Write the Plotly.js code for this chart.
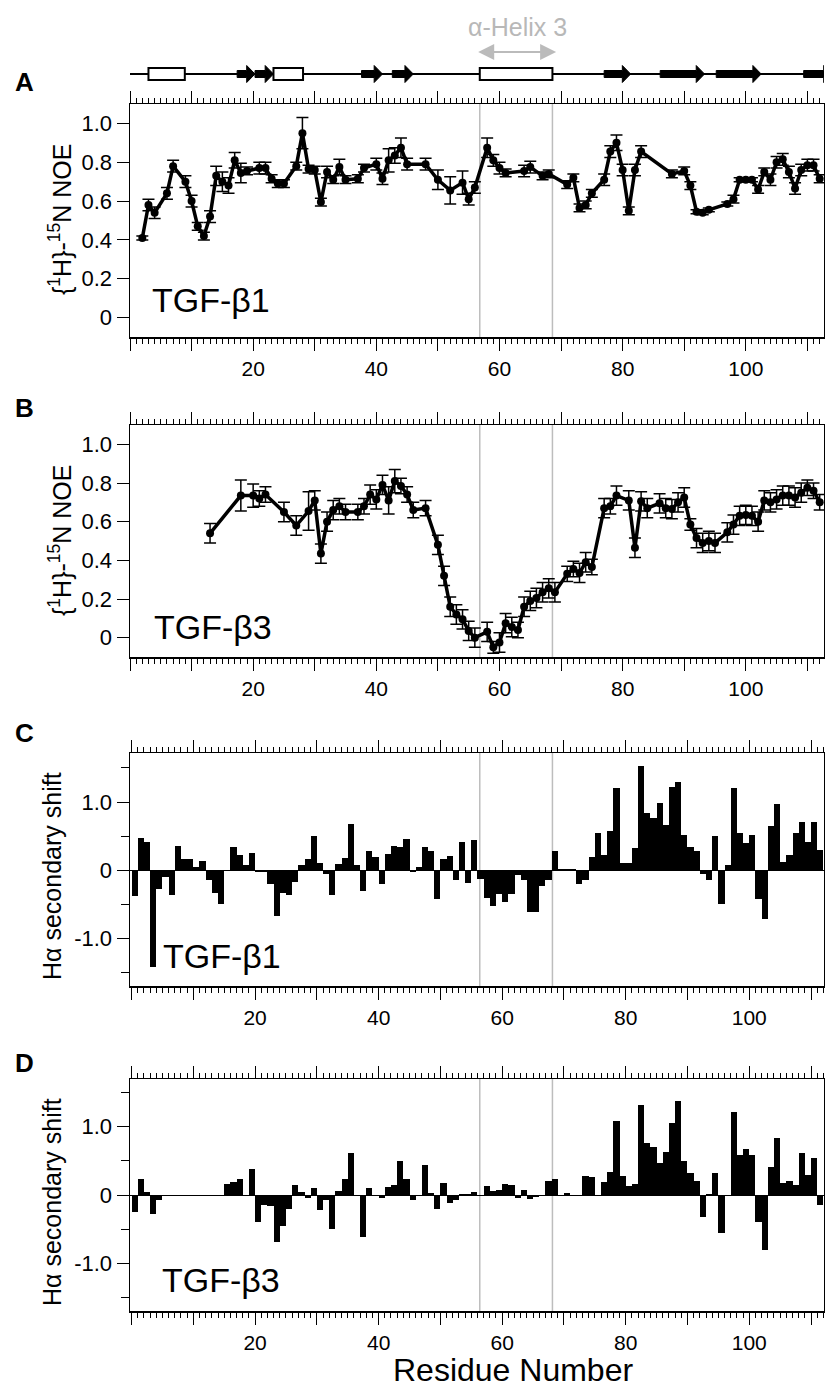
<!DOCTYPE html>
<html>
<head>
<meta charset="utf-8">
<script src="https://cdn.plot.ly/plotly-3.0.1.min.js"></script>
<style>html,body{margin:0;padding:0;background:#fff;}#chart{width:825px;height:1391px;}</style>
</head>
<body>
<div id="chart"></div>
<script>
// ---------- DATA ----------
// Panel A: TGF-beta1 {1H}-15N NOE
const resA = [2,3,4,6,7,9,10,11,12,13,14,15,16,17,18,19,21,22,23,24,25,27,28,29,30,31,32,33,34,35,37,38,40,41,42,43,44,45,48,50,52,54,55,56,58,59,60,61,64,65,67,68,71,72,73,74,75,77,78,79,80,81,82,83,88,90,91,92,93,94,97,98,99,100,101,102,103,104,105,106,107,108,109,110,111,112];
const noeA = [0.41,0.58,0.54,0.64,0.78,0.70,0.60,0.47,0.42,0.52,0.73,0.70,0.68,0.81,0.745,0.755,0.77,0.77,0.715,0.69,0.69,0.78,0.95,0.765,0.76,0.595,0.75,0.71,0.775,0.71,0.715,0.77,0.79,0.715,0.81,0.835,0.875,0.79,0.79,0.71,0.655,0.695,0.61,0.67,0.875,0.81,0.77,0.745,0.755,0.775,0.73,0.74,0.685,0.72,0.565,0.58,0.64,0.71,0.855,0.90,0.76,0.55,0.76,0.855,0.74,0.755,0.68,0.545,0.54,0.555,0.585,0.61,0.71,0.71,0.71,0.66,0.75,0.71,0.80,0.815,0.75,0.665,0.76,0.785,0.785,0.715];
const errA = [0.01,0.03,0.03,0.03,0.03,0.03,0.03,0.02,0.02,0.03,0.05,0.05,0.04,0.04,0.05,0.02,0.03,0.03,0.02,0.02,0.02,0.02,0.08,0.02,0.02,0.02,0.03,0.02,0.04,0.02,0.02,0.02,0.03,0.03,0.06,0.04,0.05,0.03,0.03,0.05,0.07,0.06,0.03,0.03,0.05,0.03,0.03,0.02,0.03,0.03,0.02,0.02,0.02,0.02,0.02,0.02,0.02,0.03,0.03,0.04,0.03,0.02,0.03,0.03,0.02,0.02,0.02,0.01,0.01,0.01,0.01,0.02,0.01,0.01,0.01,0.02,0.02,0.03,0.03,0.03,0.03,0.03,0.03,0.03,0.03,0.02];

// Panel B: TGF-beta3 {1H}-15N NOE
const resB = [13,18,20,21,22,25,27,29,30,31,32,33,34,35,37,38,39,40,41,42,43,44,45,46,48,50,51,52,53,54,55,56,58,59,60,61,62,63,64,65,66,67,68,69,71,72,73,74,75,77,78,79,81,82,83,84,86,87,88,89,90,91,92,93,94,95,97,98,99,100,101,102,103,104,105,106,107,108,109,110,111,112];
const noeB = [0.54,0.735,0.735,0.72,0.74,0.65,0.58,0.655,0.71,0.435,0.60,0.66,0.68,0.65,0.65,0.68,0.74,0.715,0.79,0.71,0.81,0.785,0.74,0.66,0.67,0.48,0.32,0.16,0.12,0.095,0.035,0.00,0.03,-0.05,-0.025,0.075,0.055,0.04,0.16,0.19,0.205,0.235,0.255,0.235,0.33,0.355,0.335,0.39,0.365,0.67,0.68,0.735,0.71,0.465,0.705,0.67,0.695,0.67,0.665,0.70,0.725,0.585,0.515,0.49,0.50,0.49,0.545,0.585,0.63,0.635,0.63,0.60,0.71,0.70,0.715,0.735,0.735,0.725,0.75,0.775,0.76,0.70];
const errB = [0.05,0.08,0.06,0.04,0.04,0.05,0.05,0.10,0.05,0.05,0.05,0.05,0.04,0.04,0.04,0.04,0.05,0.05,0.05,0.07,0.06,0.04,0.04,0.04,0.04,0.05,0.05,0.05,0.05,0.05,0.05,0.05,0.05,0.03,0.05,0.05,0.05,0.04,0.05,0.05,0.05,0.05,0.05,0.05,0.04,0.04,0.05,0.05,0.04,0.05,0.04,0.05,0.05,0.05,0.05,0.05,0.05,0.05,0.05,0.05,0.05,0.03,0.05,0.05,0.05,0.05,0.05,0.05,0.05,0.05,0.05,0.05,0.05,0.05,0.05,0.05,0.05,0.05,0.05,0.04,0.04,0.04];

// Panel C: TGF-beta1 H-alpha secondary shift
const resC = [1,2,3,4,5,6,7,8,9,10,11,12,13,14,15,16,17,18,19,20,21,22,23,24,25,26,27,28,29,30,31,32,33,34,35,36,37,38,39,40,41,42,43,44,45,46,47,48,49,50,51,52,53,54,55,56,57,58,59,60,61,62,63,64,65,66,67,68,69,70,71,72,73,74,75,76,77,78,79,80,81,82,83,84,85,86,87,88,89,90,91,92,93,94,95,96,97,98,99,100,101,102,103,104,105,106,107,108,109,110,111,112];
const shiftC = [-0.38,0.47,0.41,-1.42,-0.28,-0.10,-0.37,0.36,0.16,0.16,0.04,0.13,-0.15,-0.33,-0.50,0.01,0.34,0.23,0.07,0.25,-0.02,-0.02,-0.20,-0.67,-0.33,-0.36,-0.18,0.08,0.17,0.50,0.10,-0.06,-0.36,0.09,0.18,0.68,0.08,-0.30,0.28,0.20,-0.20,0.24,0.36,0.34,0.46,-0.02,0.04,0.34,0.28,-0.43,0.16,0.21,-0.15,0.41,-0.19,0.44,-0.13,-0.41,-0.52,-0.35,-0.47,-0.35,-0.07,-0.15,-0.62,-0.61,-0.23,-0.15,0.28,0.02,0.015,0.02,-0.21,-0.15,0.19,0.55,0.22,0.58,1.20,0.11,0.11,0.33,1.53,0.84,0.76,0.99,0.66,1.22,1.29,0.52,0.34,0.28,-0.06,-0.14,0.50,-0.49,0.07,1.20,0.55,0.40,0.52,-0.43,-0.71,0.65,0.97,0.12,0.23,0.54,0.71,0.42,0.71,0.30];

// Panel D: TGF-beta3 H-alpha secondary shift
const resD = [1,2,3,4,5,16,17,18,20,21,22,23,24,25,26,27,28,29,30,31,32,33,34,35,36,38,39,40,41,42,43,44,45,46,47,48,49,50,51,52,53,54,55,56,57,58,59,60,61,62,63,64,65,66,67,68,69,70,71,74,75,77,78,79,80,81,82,83,84,85,86,87,88,89,90,91,92,93,94,95,96,97,98,99,100,101,102,103,104,105,106,107,108,109,110,111,112];
const shiftD = [-0.25,0.23,0.05,-0.28,-0.07,0.16,0.19,0.24,0.38,-0.39,-0.14,-0.16,-0.69,-0.45,-0.21,0.15,0.05,-0.04,0.10,-0.22,-0.08,-0.50,0.06,0.23,0.62,-0.61,0.10,-0.01,-0.05,0.12,0.15,0.50,0.23,-0.07,-0.015,0.44,0.03,-0.20,0.17,-0.12,-0.07,0.02,0.02,0.05,-0.02,0.13,0.06,0.08,0.16,0.15,-0.05,0.07,-0.06,-0.025,-0.015,0.20,0.24,-0.02,0.03,0.28,0.27,0.19,0.33,1.09,0.28,0.13,0.16,1.32,0.76,0.70,0.47,0.63,1.06,1.38,0.50,0.32,0.20,-0.32,0.02,0.32,-0.56,-0.02,1.22,0.58,0.67,0.58,-0.39,-0.80,0.41,0.83,0.17,0.20,0.14,0.61,0.30,0.54,-0.15];

// Secondary structure (residue ranges)
const helices = [[3.0, 8.9], [23.3, 28.1], [56.8, 68.6]];
const strands = [[17.4, 20.3], [20.3, 23.3], [37.6, 41.0], [42.6, 46.0], [77.0, 81.3], [86.1, 93.3], [95.2, 102.5], [109.4, 114.0]];
const helix3Bounds = [56.8, 68.6];
const helix3Arrow = [56.3, 69.2];
const helix3Label = 'α-Helix 3';

// Axis ticks
const xTickVals = [0,10,20,30,40,50,60,70,80,90,100,110];
const xTickText = ['','','20','','40','','60','','80','','100',''];
const yTickValsNOE = [0,0.2,0.4,0.6,0.8,1.0];
const yTickTextNOE = ['0','0.2','0.4','0.6','0.8','1.0'];
const yTickValsShift = [-1,0,1];
const yTickTextShift = ['-1.0','0','1.0'];
const yMinorShift = [-1.5,-0.5,0.5,1.5];

const panelLetters = ['A','B','C','D'];
const panelLabels = ['TGF-β1','TGF-β3','TGF-β1','TGF-β3'];
const noeTitle = '{<sup>1</sup>H}-<sup>15</sup>N NOE';
const shiftTitle = 'Hα secondary shift';
const xTitle = 'Residue Number';

// ---------- LAYOUT HELPERS ----------
const W = 825, H = 1391;
const FONT = 'Liberation Sans, Arial, Helvetica, sans-serif';
const py = p => 1 - p / H;
const pxf = p => p / W;
const xDomain = [pxf(130), pxf(824)];
const panelPx = [[104, 337], [425, 657], [753, 986], [1079, 1311]];
const xRanges = [[0, 112.7], [0, 112.7], [-0.25, 112.1], [-0.25, 112.1]];
const yRanges = [[-0.1, 1.1], [-0.1, 1.1], [-1.7, 1.72], [-1.7, 1.7]];

function xAxis(i) {
  return {
    domain: xDomain, range: xRanges[i], anchor: i === 0 ? 'y' : 'y' + (i + 1),
    showline: true, linecolor: 'black', linewidth: 1.5, mirror: 'ticks',
    ticks: 'outside', ticklen: 12, tickwidth: 1, tickcolor: 'black',
    tickmode: 'array', tickvals: xTickVals, ticktext: xTickText,
    minor: {dtick: 1, tick0: 0, ticks: 'outside', ticklen: 5, tickwidth: 1, tickcolor: 'black', showgrid: false},
    showgrid: false, zeroline: false, fixedrange: true,
    tickfont: {family: FONT, size: 21, color: 'black'}
  };
}
function yAxis(i) {
  const shift = i >= 2;
  const a = {
    domain: [py(panelPx[i][1]), py(panelPx[i][0])], range: yRanges[i],
    anchor: i === 0 ? 'x' : 'x' + (i + 1),
    showline: true, linecolor: 'black', linewidth: 1.5, mirror: true,
    ticks: 'outside', ticklen: 12, tickwidth: 1, tickcolor: 'black',
    tickmode: 'array',
    tickvals: shift ? yTickValsShift : yTickValsNOE,
    ticktext: shift ? yTickTextShift : yTickTextNOE,
    showgrid: false, zeroline: shift, zerolinecolor: 'black', zerolinewidth: 1,
    fixedrange: true,
    tickfont: {family: FONT, size: 22, color: 'black'}
  };
  if (shift) a.minor = {tickmode: 'array', tickvals: yMinorShift, ticks: 'outside', ticklen: 8, tickwidth: 1, tickcolor: 'black', showgrid: false};
  return a;
}

// ---------- TRACES ----------
function noeTrace(x, y, e, i) {
  return {
    type: 'scatter', mode: 'lines+markers', x: x, y: y,
    xaxis: i === 0 ? 'x' : 'x' + (i + 1), yaxis: i === 0 ? 'y' : 'y' + (i + 1),
    line: {color: 'black', width: 3.5},
    marker: {color: 'black', size: 8},
    error_y: {type: 'data', array: e, visible: true, color: 'black', thickness: 1.5, width: 6},
    hoverinfo: 'skip', showlegend: false
  };
}
function barTrace(x, y, i) {
  return {
    type: 'bar', x: x, y: y, width: 1, offset: -1,
    xaxis: 'x' + (i + 1), yaxis: 'y' + (i + 1),
    marker: {color: 'black', line: {width: 0}},
    hoverinfo: 'skip', showlegend: false
  };
}
const data = [
  noeTrace(resA, noeA, errA, 0),
  noeTrace(resB, noeB, errB, 1),
  barTrace(resC, shiftC, 2),
  barTrace(resD, shiftD, 3)
];

// ---------- SHAPES ----------
const shapes = [];
['y', 'y2', 'y3', 'y4'].forEach(yr => {
  helix3Bounds.forEach(b => shapes.push({
    type: 'line', xref: 'x', yref: yr + ' domain', x0: b, x1: b, y0: 0, y1: 1,
    line: {color: '#bdbdbd', width: 1.5}, layer: 'below'
  }));
});
const lineY = 74;
shapes.push({type: 'line', xref: 'x', yref: 'paper', x0: 0, x1: 116, y0: py(lineY), y1: py(lineY), line: {color: 'black', width: 2}});
helices.forEach(h => shapes.push({
  type: 'rect', xref: 'x', yref: 'paper', x0: h[0], x1: h[1], y0: py(lineY + 6), y1: py(lineY - 6),
  fillcolor: 'white', line: {color: 'black', width: 2}
}));
const headLen = 1.35;
strands.forEach(s => {
  const x0 = s[0], x1 = s[1], xh = Math.max(x0, x1 - headLen);
  const ys1 = py(lineY - 3.5), ys2 = py(lineY + 3.5), yh1 = py(lineY - 8.5), yh2 = py(lineY + 8.5), ym = py(lineY);
  shapes.push({
    type: 'path', xref: 'x', yref: 'paper',
    path: `M${x0},${ys1} L${xh},${ys1} L${xh},${yh1} L${x1},${ym} L${xh},${yh2} L${xh},${ys2} L${x0},${ys2} Z`,
    fillcolor: 'black', line: {color: 'black', width: 1}
  });
});

// ---------- ANNOTATIONS ----------
const ann = [];
const letterY = [82, 408, 733, 1063];
panelLetters.forEach((l, i) => ann.push({
  text: '<b>' + l + '</b>', xref: 'paper', yref: 'paper', x: pxf(24), y: py(letterY[i]),
  xanchor: 'center', yanchor: 'middle', showarrow: false, font: {family: FONT, size: 26, color: 'black'}
}));
const labelPos = [[150, 300], [152, 627], [161, 956], [160, 1280]];
panelLabels.forEach((t, i) => ann.push({
  text: t, xref: 'paper', yref: 'paper', x: pxf(labelPos[i][0]), y: py(labelPos[i][1]),
  xanchor: 'left', yanchor: 'middle', showarrow: false, font: {family: FONT, size: 34, color: 'black'}
}));
const yTitlePos = [[60, 220, noeTitle], [60, 541, noeTitle], [52, 876, shiftTitle], [52, 1202, shiftTitle]];
yTitlePos.forEach(p => ann.push({
  text: p[2], xref: 'paper', yref: 'paper', x: pxf(p[0]), y: py(p[1]), textangle: -90,
  xanchor: 'center', yanchor: 'middle', showarrow: false, font: {family: FONT, size: 25, color: 'black'}
}));
ann.push({
  text: xTitle, xref: 'paper', yref: 'paper', x: pxf(513), y: py(1370),
  xanchor: 'center', yanchor: 'middle', showarrow: false, font: {family: FONT, size: 32, color: 'black'}
});
ann.push({
  text: helix3Label, xref: 'x', yref: 'paper', x: (helix3Bounds[0] + helix3Bounds[1]) / 2 + 0.3, y: py(27),
  xanchor: 'center', yanchor: 'middle', showarrow: false, font: {family: FONT, size: 25, color: '#b8b8b8'}
});
ann.push({
  text: '', xref: 'x', yref: 'paper', x: helix3Arrow[1], y: py(52),
  axref: 'x', ayref: 'pixel', ax: helix3Arrow[0], ay: 0,
  showarrow: true, arrowside: 'end+start', arrowhead: 2, arrowsize: 1.6, arrowwidth: 2, arrowcolor: '#bbbbbb',
  standoff: 0, startstandoff: 0
});

const layout = {
  width: W, height: H, margin: {l: 0, r: 0, t: 0, b: 0},
  paper_bgcolor: 'white', plot_bgcolor: 'white',
  font: {family: FONT, color: 'black'},
  showlegend: false, bargap: 0,
  xaxis: xAxis(0), xaxis2: xAxis(1), xaxis3: xAxis(2), xaxis4: xAxis(3),
  yaxis: yAxis(0), yaxis2: yAxis(1), yaxis3: yAxis(2), yaxis4: yAxis(3),
  shapes: shapes, annotations: ann
};
Plotly.newPlot('chart', data, layout, {staticPlot: true, displayModeBar: false});
</script>
</body>
</html>
